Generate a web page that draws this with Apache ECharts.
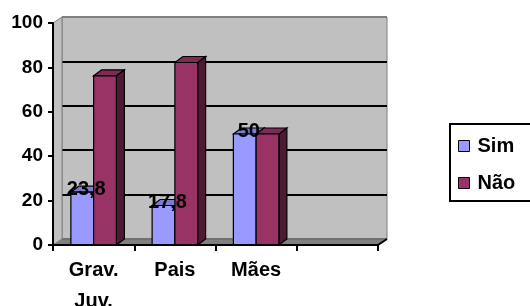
<!DOCTYPE html>
<html>
<head>
<meta charset="utf-8">
<script src="https://cdn.jsdelivr.net/npm/echarts@6/dist/echarts.min.js"></script>
<style>
  html, body { margin: 0; padding: 0; background: #fff; }
  #chart { width: 530px; height: 306px; }
</style>
</head>
<body>
<div id="chart"></div>
<script>
(function () {
  // data
  var categories = ['Grav.\nJuv.', 'Pais', 'Mães', ''];
  var simValues = [23.8, 17.8, 50, null];
  var naoValues = [76.2, 82.2, 50, null];
  var seriesNames = ['Sim', 'Não'];
  var yTicks = [0, 20, 40, 60, 80, 100];

  var FONT = '"Liberation Sans", Arial, sans-serif';
  // front plot box and the 3D depth of the walls
  var L = 53, R = 378, T = 23, B = 245;
  var W = 530, H = 306;
  var DX = 9, DY = -6;
  // bar depth
  var BDX = 8, BDY = -6;

  var colors = {
    Sim: { front: '#9999ff', top: '#7c7cd6', side: '#4d4d80' },
    'Não': { front: '#993366', top: '#7d2a54', side: '#4c1a33' }
  };

  function toPairs(vals) {
    var out = [];
    vals.forEach(function (v, i) { if (v != null) out.push([i, v]); });
    return out;
  }

  function barItem(which) {
    return function (params, api) {
      var ci = api.value(0), v = api.value(1);
      var top = api.coord([ci, v]);
      var base = api.coord([ci, 0]);
      var w = api.size([1, 0])[0] * 0.28;
      var x0 = which === 0 ? top[0] - w : top[0];
      var c = colors[seriesNames[which]];
      var st = { stroke: '#000', lineWidth: 1.2 };
      return {
        type: 'group',
        children: [
          { type: 'polygon', shape: { points: [[x0 + w, top[1]], [x0 + w + BDX, top[1] + BDY], [x0 + w + BDX, base[1] + BDY], [x0 + w, base[1]]] },
            style: Object.assign({ fill: c.side }, st) },
          { type: 'polygon', shape: { points: [[x0, top[1]], [x0 + BDX, top[1] + BDY], [x0 + w + BDX, top[1] + BDY], [x0 + w, top[1]]] },
            style: Object.assign({ fill: c.top }, st) },
          { type: 'rect', shape: { x: x0, y: top[1], width: w, height: base[1] - top[1] },
            style: Object.assign({ fill: c.front }, st) }
        ]
      };
    };
  }

  function labelItem(params, api) {
    var ci = api.value(0), v = api.value(1);
    var top = api.coord([ci, v]);
    var w = api.size([1, 0])[0] * 0.28;
    return {
      type: 'text',
      style: {
        text: String(v).replace('.', ','),
        x: top[0] - w / 2 + BDX / 2,
        y: top[1] + BDY / 2,
        align: 'center',
        verticalAlign: 'middle',
        fill: '#000',
        font: 'bold 20px ' + FONT
      }
    };
  }

  var chart = echarts.init(document.getElementById('chart'));

  chart.setOption({
    animation: false,
    backgroundColor: '#fff',
    textStyle: { fontFamily: FONT },
    graphic: [
      { type: 'polygon', z: 1, shape: { points: [[L, B], [R, B], [R + DX, B + DY], [L + DX, B + DY]] },
        style: { fill: '#808080', stroke: '#606060', lineWidth: 1 } },
      { type: 'polygon', z: 1, shape: { points: [[L, B], [L, T], [L + DX, T + DY], [L + DX, B + DY]] },
        style: { fill: '#c0c0c0', stroke: '#808080', lineWidth: 1 } },
      { type: 'polyline', z: 5, shape: { points: [[R, B], [R + DX, B + DY]] },
        style: { stroke: '#000', lineWidth: 2 } }
    ],
    legend: {
      orient: 'vertical',
      left: 450,
      top: 124,
      padding: [12, 30, 8, 8],
      itemGap: 17,
      itemWidth: 11,
      itemHeight: 11,
      borderColor: '#000',
      borderWidth: 2,
      selectedMode: false,
      icon: 'rect',
      textStyle: { fontFamily: FONT, fontWeight: 'bold', fontSize: 20, color: '#000', padding: [0, 0, 0, 3] },
      data: seriesNames.map(function (n) {
        return { name: n, itemStyle: { color: colors[n].front, borderColor: '#000', borderWidth: 1 } };
      })
    },
    grid: [
      { left: L, right: W - R, top: T, bottom: H - B, containLabel: false, outerBoundsMode: 'none' },
      { left: L + DX, right: W - R - DX, top: T + DY, bottom: H - B - DY, show: true, outerBoundsMode: 'none',
        backgroundColor: '#c0c0c0', borderColor: '#808080', borderWidth: 1 }
    ],
    xAxis: [
      {
        gridIndex: 0, type: 'category', data: categories, z: 4,
        axisLine: { lineStyle: { color: '#000', width: 2 } },
        axisTick: { show: true, length: 6, lineStyle: { color: '#000', width: 2 } },
        axisLabel: { fontFamily: FONT, fontWeight: 'bold', fontSize: 20, color: '#000', lineHeight: 31, margin: 10, interval: 0 }
      },
      { gridIndex: 1, type: 'category', data: categories, show: false }
    ],
    yAxis: [
      {
        gridIndex: 0, type: 'value', min: 0, max: 100, interval: 20, z: 4,
        axisLine: { show: true, lineStyle: { color: '#000', width: 2 } },
        axisTick: { show: true, length: 5, lineStyle: { color: '#000', width: 2 } },
        axisLabel: { fontFamily: FONT, fontWeight: 'bold', fontSize: 19, color: '#000', margin: 10,
          formatter: function (v) { return yTicks.indexOf(v) >= 0 ? String(v) : ''; } },
        splitLine: { show: false }
      },
      {
        gridIndex: 1, type: 'value', min: 0, max: 100, interval: 20,
        axisLine: { show: false }, axisTick: { show: false }, axisLabel: { show: false },
        splitLine: { show: true, lineStyle: { color: ['#808080', '#000', '#000', '#000', '#000', '#808080'], width: 2 } }
      }
    ],
    series: [
      { name: 'Sim', type: 'custom', xAxisIndex: 0, yAxisIndex: 0, z: 2,
        renderItem: barItem(0), data: toPairs(simValues), encode: { x: 0, y: 1 } },
      { name: 'Não', type: 'custom', xAxisIndex: 0, yAxisIndex: 0, z: 2,
        renderItem: barItem(1), data: toPairs(naoValues), encode: { x: 0, y: 1 } },
      { name: 'labels', type: 'custom', xAxisIndex: 0, yAxisIndex: 0, z: 6,
        renderItem: labelItem, data: toPairs(simValues), encode: { x: 0, y: 1 } }
    ]
  });
})();
</script>
</body>
</html>
